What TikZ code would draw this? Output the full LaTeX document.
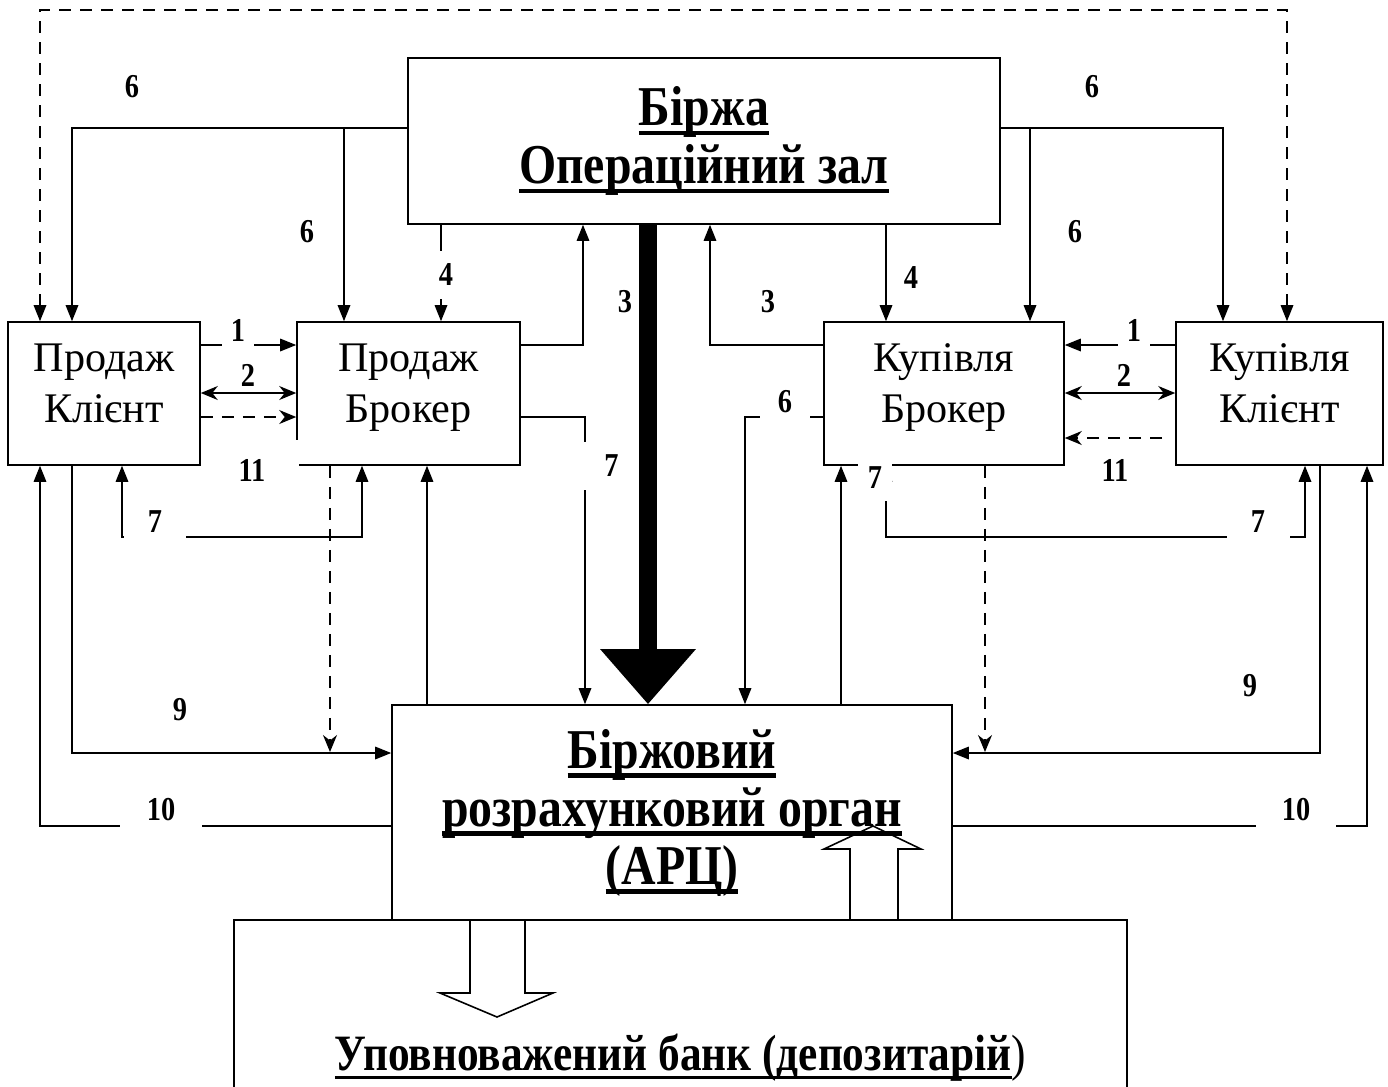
\documentclass[tikz,border=0pt]{standalone}
\usepackage{fontspec}
\setmainfont{Liberation Serif}
\newfontfamily\condfont[FakeStretch=0.85]{Liberation Serif}
\usetikzlibrary{arrows.meta}

\newsavebox\ulbox
\newcommand\undl[1]{\sbox\ulbox{#1}\leavevmode\rlap{\usebox\ulbox}\rule[-0.17em]{\wd\ulbox}{0.075em}}

\tikzset{
  frame/.style={draw, inner sep=0pt, align=center},
  box/.style={frame, font=\fontsize{24}{29}\selectfont,
    execute at end node={\rule[-4mm]{0pt}{4mm}}},
  title/.style={frame, font=\condfont\bfseries\fontsize{32}{33}\selectfont},
  lbl/.style={font=\condfont\bfseries\fontsize{19}{19}\selectfont, inner sep=1pt},
  cut/.style 2 args={fill=white, minimum width=#1, minimum height=#2},
  dsh/.style={dash pattern=on 2.4mm off 1.8mm},
  st/.style={-{Stealth[length=3.4mm,width=2.8mm]}},
  stst/.style={{Stealth[length=3.4mm,width=2.8mm]}-{Stealth[length=3.4mm,width=2.8mm]}},
}

\begin{document}
\begin{tikzpicture}[x=0.2mm, y=-0.2mm, line width=0.9pt,
    >={Triangle[length=3.2mm,width=2.5mm]}]
\clip (0,0) rectangle (1388,1086);

% Boxes:
\node[title, minimum width=118.4mm, minimum height=33.2mm] (birzha) at (704,141)
  {\undl{Біржа}\\\undl{Операційний зал}};
\node[box, minimum width=38.4mm, minimum height=28.6mm] (sk) at (104,393.5) {Продаж\\Клієнт};
\node[box, minimum width=44.6mm, minimum height=28.6mm] (sb) at (408.5,393.5) {Продаж\\Брокер};
\node[box, minimum width=48mm, minimum height=28.6mm] (bb) at (944,393.5) {Купівля\\Брокер};
\node[box, minimum width=41.4mm, minimum height=28.6mm] (bk) at (1279.5,393.5) {Купівля\\Клієнт};
\node[title, minimum width=112mm, minimum height=43mm] (arc) at (672,812.5)
  {\undl{Біржовий}\\\undl{розрахунковий орган}\\\undl{(АРЦ)}};
\node[title, font=\condfont\bfseries\fontsize{29}{30}\selectfont,
  minimum width=178.6mm, minimum height=55.2mm] (bank) at (680.5,1058)
  {\undl{Уповноважений банк (депозитарій}{\mdseries)}};

% Junctions and free ends:
\coordinate (j6l) at (344,128);
\coordinate (j6r) at (1030,128);
\coordinate (d11) at (1162,438);
\coordinate (d9l) at (330,752);
\coordinate (d9r) at (985,752);

% Top dashed line:
\draw[dsh, <->] (sk.north -| 40,0) -- (40,10) -- (1287,10) -- (bk.north -| 1287,0);

% 6 from the exchange:
\draw[->] (birzha.west |- j6l) -- (72,128) -- (sk.north -| 72,0);
\draw[->] (j6l) -- (sb.north -| j6l);
\draw[->] (birzha.east |- j6r) -- (1223,128) -- (bk.north -| 1223,0);
\draw[->] (j6r) -- (bb.north -| j6r);

% 4 and 3:
\draw[->] (birzha.south -| 441,0) -- (sb.north -| 441,0);
\draw[->] (birzha.south -| 886,0) -- (bb.north -| 886,0);
\draw[->] (sb.east |- 0,345) -- (583,345) -- (birzha.south -| 583,0);
\draw[->] (bb.west |- 0,345) -- (710,345) -- (birzha.south -| 710,0);
\draw[line width=3.6mm, -{Triangle[length=11mm,width=18.4mm]}]
  (birzha.south -| 648,0) -- (arc.north -| 648,0);

% brokers to the clearing body:
\draw[->] (sb.east |- 0,417) -- (585,417) -- (arc.north -| 585,0);
\draw[->] (bb.west |- 0,417) -- (745,417) -- (arc.north -| 745,0);
\draw[->] (arc.north -| 427,0) -- (sb.south -| 427,0);
\draw[->] (arc.north -| 841,0) -- (bb.south -| 841,0);
\draw[dsh, st] (sb.south -| d9l) -- (d9l);
\draw[dsh, st] (bb.south -| d9r) -- (d9r);

% 1, 2, 11:
\draw[->] (sk.east |- 0,345) -- (sb.west |- 0,345);
\draw[stst] (sk.east |- 0,393) -- (sb.west |- 0,393);
\draw[dsh, st] (sk.east |- 0,417) -- (sb.west |- 0,417);
\draw[->] (bk.west |- 0,345) -- (bb.east |- 0,345);
\draw[stst] (bb.east |- 0,393) -- (bk.west |- 0,393);
\draw[dsh, st] (d11) -- (bb.east |- d11);

% 7 loops:
\draw[<->] (sk.south -| 122,0) -- (122,537) -- (362,537) -- (sb.south -| 362,0);
\draw[<->] (bb.south -| 886,0) -- (886,537) -- (1305,537) -- (bk.south -| 1305,0);

% 9 and 10:
\draw[->] (sk.south -| 72,0) -- (72,753) -- (arc.west |- 0,753);
\draw[->] (bk.south -| 1320,0) -- (1320,753) -- (arc.east |- 0,753);
\draw[->] (arc.west |- 0,826) -- (40,826) -- (sk.south -| 40,0);
\draw[->] (arc.east |- 0,826) -- (1367,826) -- (bk.south -| 1367,0);

% Hollow arrows between the clearing body and the bank:
\draw (470,920) -- (470,993) -- (440,993) -- (497,1017) -- (553,993) -- (525,993) -- (525,920);
\draw (850,920) -- (850,849) -- (824,849) -- (873,826) -- (921,849) -- (898,849) -- (898,920);

% Labels:
\node[lbl] (n6a) at (132,87) {6};
\node[lbl] (n6b) at (307,232) {6};
\node[lbl] (n6c) at (1092,87) {6};
\node[lbl] (n6d) at (1075,232) {6};
\node[lbl, cut={5mm}{9.6mm}] (n4a) at (446,275) {4};
\node[lbl] (n4b) at (911,278) {4};
\node[lbl] (n3a) at (625,302) {3};
\node[lbl] (n3b) at (768,302) {3};
\node[lbl, cut={6.4mm}{8mm}] (n1a) at (238,330) {1};
\node[lbl, cut={6.4mm}{8mm}] (n1b) at (1134,330) {1};
\node[lbl] (n2a) at (248,375) {2};
\node[lbl] (n2b) at (1124,375) {2};
\node[lbl, cut={18.8mm}{12mm}] (n11a) at (252,470) {11};
\node[lbl] (n11b) at (1115,470) {11};
\node[lbl, cut={8.4mm}{9.6mm}] (n7a) at (604,466) {\hspace{3mm}7};
\node[lbl, cut={10mm}{7mm}] (n6e) at (785,402) {6};
\node[lbl, cut={6.8mm}{9mm}] (n7b) at (875,478) {7};
\node[lbl, cut={12.4mm}{7mm}] (n7c) at (155,522) {7};
\node[lbl, cut={12.6mm}{7mm}] (n7d) at (1258,522) {7};
\node[lbl] (n9a) at (180,710) {9};
\node[lbl] (n9b) at (1250,686) {9};
\node[lbl, cut={16.4mm}{8mm}] (n10a) at (161,810) {10};
\node[lbl, cut={16mm}{8mm}] (n10b) at (1296,810) {10};
\end{tikzpicture}
\end{document}
